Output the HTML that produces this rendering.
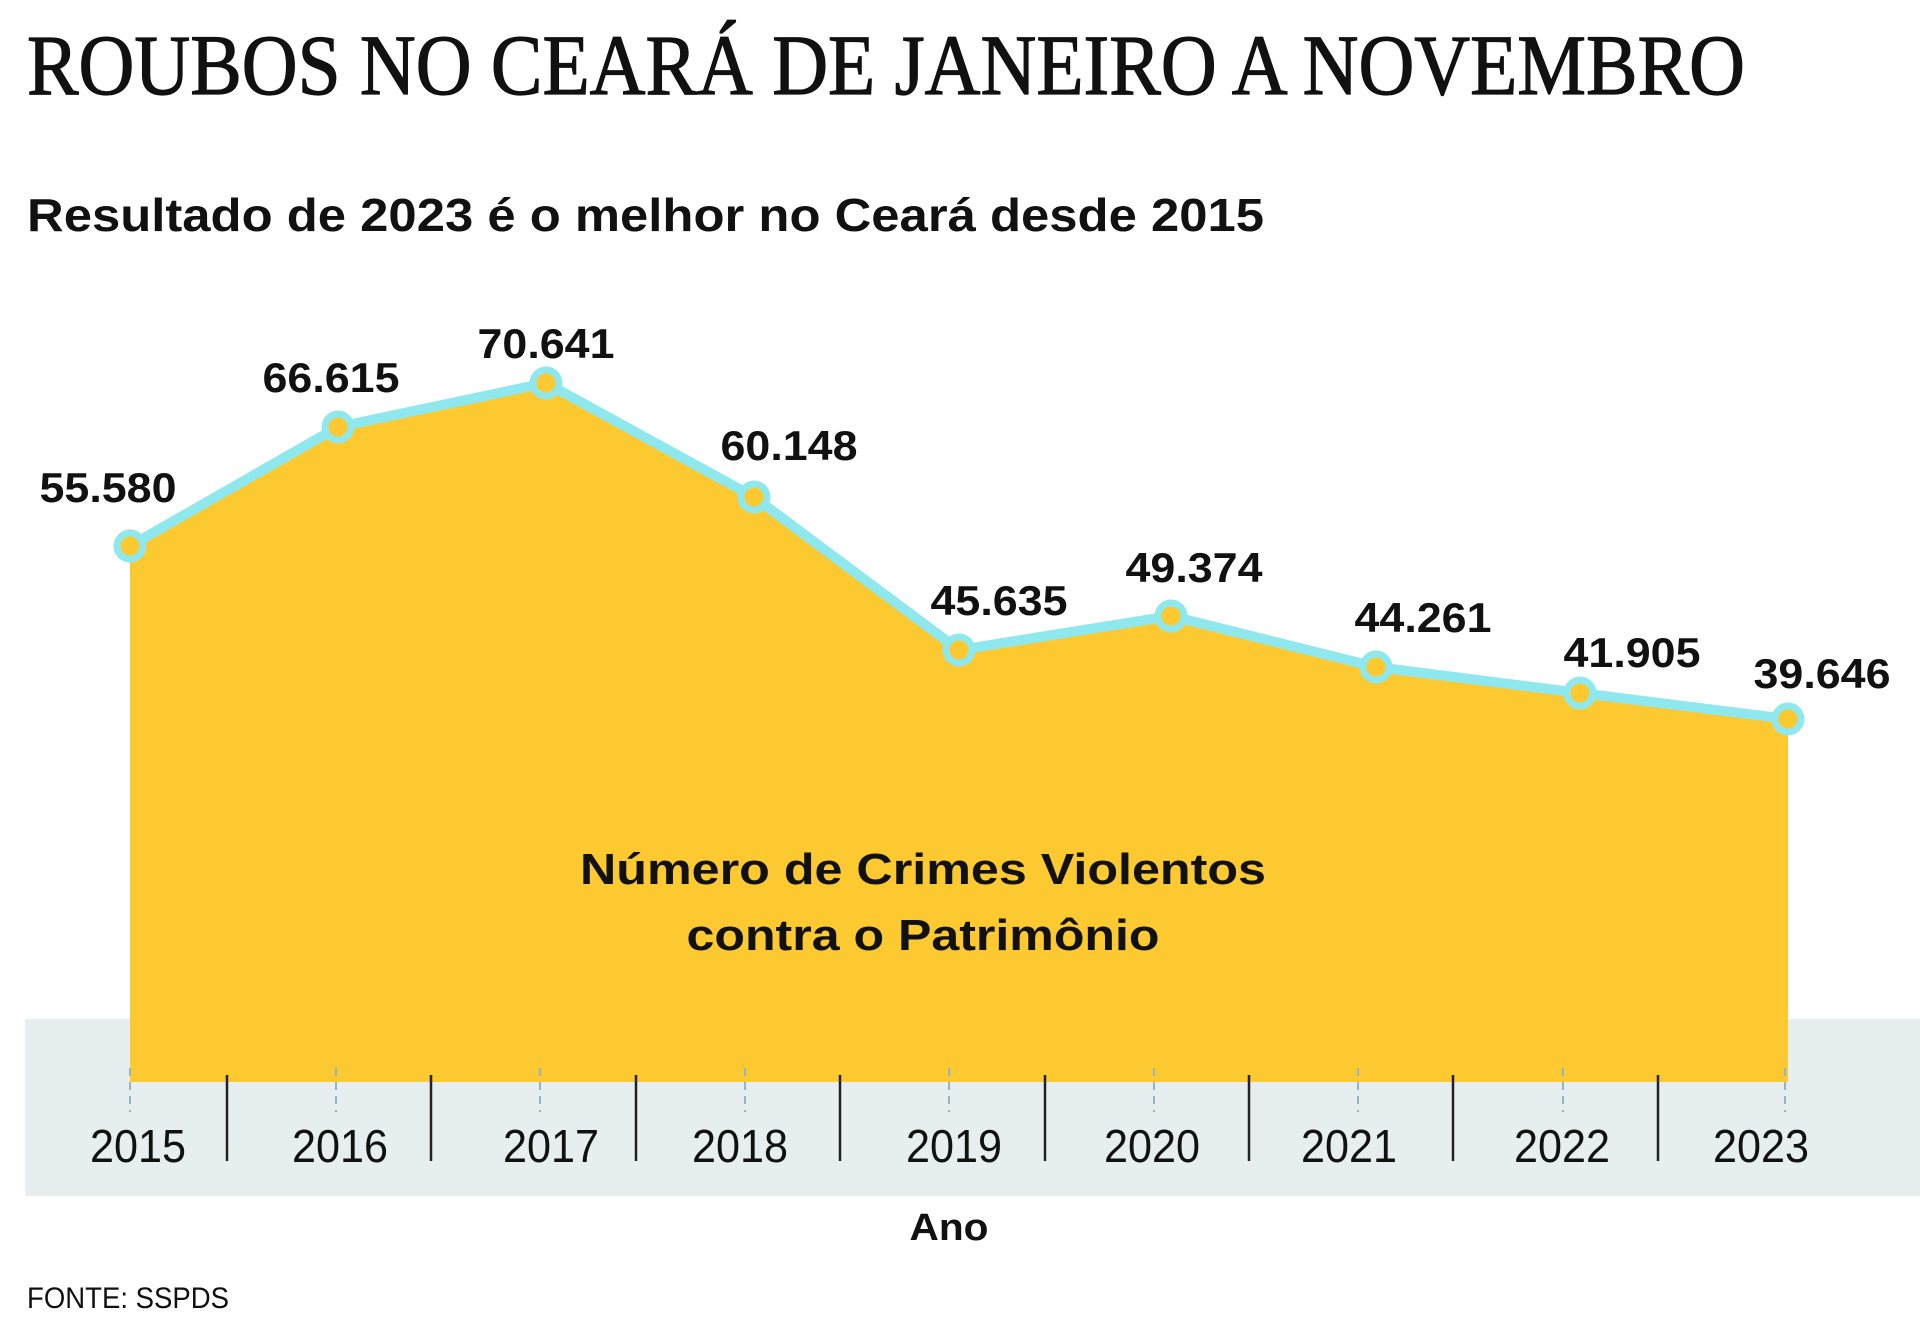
<!DOCTYPE html>
<html><head><meta charset="utf-8"><style>html,body{margin:0;padding:0;background:#fff}svg{display:block}</style></head>
<body>
<svg width="1920" height="1322" viewBox="0 0 1920 1322" xmlns="http://www.w3.org/2000/svg">
<rect width="1920" height="1322" fill="#fff"/>
<text x="27" y="94" font-family="Liberation Serif, serif" font-size="86" textLength="1718" lengthAdjust="spacingAndGlyphs" fill="#111" stroke="#111" stroke-width="1.2">ROUBOS NO CEARÁ DE JANEIRO A NOVEMBRO</text>
<text x="27" y="231" font-family="Liberation Sans, sans-serif" font-weight="bold" font-size="46" textLength="1237" lengthAdjust="spacingAndGlyphs" fill="#111">Resultado de 2023 é o melhor no Ceará desde 2015</text>
<rect x="25" y="1019" width="1895" height="177" fill="#e7eef0"/>
<polygon points="130,546 338,427 546,383 754,497 959,650 1171,616 1376,667 1580,693 1788,719 1788,1082 130,1082" fill="#fdc931"/>
<g stroke="#8fb8c2" stroke-width="2" stroke-dasharray="8,6">
<line x1="130" y1="1068" x2="130" y2="1112"/><line x1="336" y1="1068" x2="336" y2="1112"/><line x1="540" y1="1068" x2="540" y2="1112"/><line x1="745" y1="1068" x2="745" y2="1112"/><line x1="949" y1="1068" x2="949" y2="1112"/><line x1="1154" y1="1068" x2="1154" y2="1112"/><line x1="1358" y1="1068" x2="1358" y2="1112"/><line x1="1563" y1="1068" x2="1563" y2="1112"/><line x1="1785" y1="1068" x2="1785" y2="1112"/>
</g>
<g stroke="#222" stroke-width="2.5">
<line x1="227" y1="1075" x2="227" y2="1161"/><line x1="431" y1="1075" x2="431" y2="1161"/><line x1="636" y1="1075" x2="636" y2="1161"/><line x1="840" y1="1075" x2="840" y2="1161"/><line x1="1045" y1="1075" x2="1045" y2="1161"/><line x1="1249" y1="1075" x2="1249" y2="1161"/><line x1="1453" y1="1075" x2="1453" y2="1161"/><line x1="1658" y1="1075" x2="1658" y2="1161"/>
</g>
<g font-family="Liberation Sans Narrow, Liberation Sans, sans-serif" font-size="46" fill="#111" text-anchor="middle">
<text x="138" y="1162" textLength="96" lengthAdjust="spacingAndGlyphs">2015</text>
<text x="340" y="1162" textLength="96" lengthAdjust="spacingAndGlyphs">2016</text>
<text x="551" y="1162" textLength="96" lengthAdjust="spacingAndGlyphs">2017</text>
<text x="740" y="1162" textLength="96" lengthAdjust="spacingAndGlyphs">2018</text>
<text x="954" y="1162" textLength="96" lengthAdjust="spacingAndGlyphs">2019</text>
<text x="1152" y="1162" textLength="96" lengthAdjust="spacingAndGlyphs">2020</text>
<text x="1349" y="1162" textLength="96" lengthAdjust="spacingAndGlyphs">2021</text>
<text x="1562" y="1162" textLength="96" lengthAdjust="spacingAndGlyphs">2022</text>
<text x="1761" y="1162" textLength="96" lengthAdjust="spacingAndGlyphs">2023</text>
</g>
<polyline points="130,546 338,427 546,383 754,497 959,650 1171,616 1376,667 1580,693 1788,719" fill="none" stroke="#8ee8ee" stroke-width="10" stroke-linejoin="round"/>
<g fill="#fdc931" stroke="#8ee8ee" stroke-width="7">
<circle cx="130" cy="546" r="13"/><circle cx="338" cy="427" r="13"/><circle cx="546" cy="383" r="13"/><circle cx="754" cy="497" r="13"/><circle cx="959" cy="650" r="13"/><circle cx="1171" cy="616" r="13"/><circle cx="1376" cy="667" r="13"/><circle cx="1580" cy="693" r="13"/><circle cx="1788" cy="719" r="13"/>
</g>
<g font-family="Liberation Sans, sans-serif" font-weight="bold" font-size="42" fill="#111" text-anchor="middle">
<text x="108" y="502" textLength="137" lengthAdjust="spacingAndGlyphs">55.580</text>
<text x="331" y="392" textLength="137" lengthAdjust="spacingAndGlyphs">66.615</text>
<text x="546" y="358" textLength="137" lengthAdjust="spacingAndGlyphs">70.641</text>
<text x="789" y="460" textLength="137" lengthAdjust="spacingAndGlyphs">60.148</text>
<text x="999" y="615" textLength="137" lengthAdjust="spacingAndGlyphs">45.635</text>
<text x="1194" y="582" textLength="137" lengthAdjust="spacingAndGlyphs">49.374</text>
<text x="1423" y="632" textLength="137" lengthAdjust="spacingAndGlyphs">44.261</text>
<text x="1632" y="667" textLength="137" lengthAdjust="spacingAndGlyphs">41.905</text>
<text x="1822" y="688" textLength="137" lengthAdjust="spacingAndGlyphs">39.646</text>
<text x="923" y="884" font-size="44" textLength="686" lengthAdjust="spacingAndGlyphs">Número de Crimes Violentos</text>
<text x="923" y="950" font-size="44" textLength="473" lengthAdjust="spacingAndGlyphs">contra o Patrimônio</text>
<text x="949" y="1240" font-size="38" textLength="79" lengthAdjust="spacingAndGlyphs">Ano</text>
</g>
<text x="27" y="1308" font-family="Liberation Sans Narrow, Liberation Sans, sans-serif" font-size="30" fill="#111" textLength="202" lengthAdjust="spacingAndGlyphs">FONTE: SSPDS</text>
</svg>
</body></html>
